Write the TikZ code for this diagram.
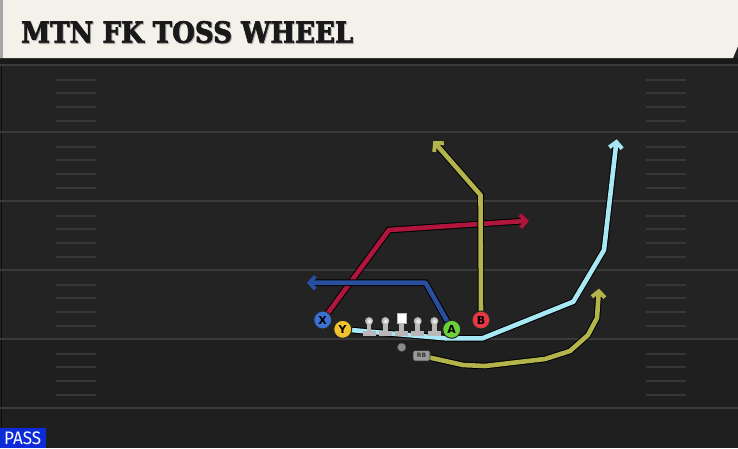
\documentclass[tikz,border=0pt]{standalone}
\usepackage{fontspec}
\usepackage{graphicx}
\usetikzlibrary{arrows.meta}
\newfontfamily\titlefont[FakeBold=2.5]{DejaVu Serif}
\newfontfamily\passfont{Fira Sans}
\newfontfamily\lblfont{DejaVu Sans}
\definecolor{fieldbg}{HTML}{232323}
\definecolor{fielddark}{HTML}{1F1F1F}
\definecolor{yardline}{HTML}{3A3A3A}
\definecolor{hashcol}{HTML}{363636}
\definecolor{bannerbg}{HTML}{F4F1EA}
\definecolor{routered}{HTML}{B0163C}
\definecolor{routeblue}{HTML}{2A4E9E}
\definecolor{routeolive}{HTML}{B4B44C}
\definecolor{routecyan}{HTML}{A8E8F4}
\definecolor{xblue}{HTML}{3B6FD0}
\definecolor{yyellow}{HTML}{F2C12E}
\definecolor{agreen}{HTML}{6BD13A}
\definecolor{bred}{HTML}{E23A44}
\definecolor{linegray}{HTML}{B8B8B8}
\definecolor{passblue}{HTML}{0D2BD9}
\tikzset{
  route/.style={line width=4.6pt, line join=round, line cap=butt,
    preaction={draw=black, line width=6.6pt}},
  routetip/.style={-{Straight Barb[length=6pt,width=13pt,line width=4pt]}},
  player/.style={circle, draw=black!85, line width=1pt, minimum size=18pt,
    inner sep=0pt, font=\lblfont\bfseries\fontsize{11}{11}\selectfont, text=black},
  hashmark/.style={draw=hashcol, line width=2pt},
  ydline/.style={draw=yardline, line width=2pt},
  lman/.style={fill=linegray}
}
\begin{document}
\begin{tikzpicture}[x=1pt,y=-1pt]
\useasboundingbox (0,0) rectangle (738,448);
% field
\fill[fieldbg] (0,0) rectangle (738,448);
\fill[fielddark] (0,339) rectangle (738,448);
\draw[draw=black!70!fieldbg, line width=1pt] (1.5,58) -- (1.5,448);
% yard lines
\foreach \yy in {65,132,201,270,339,408} {
  \draw[ydline] (0,\yy) -- (738,\yy);
}
% hash marks
\foreach \yy in {65,132,201,270,339} {
  \foreach \dd in {14.5,28,41.5,55.5} {
    \draw[hashmark] (56,\yy+\dd) -- (96,\yy+\dd);
    \draw[hashmark] (646,\yy+\dd) -- (686,\yy+\dd);
  }
}
% banner
\fill[black!90] (0,58) rectangle (738,64);
\fill[bannerbg] (0,0) -- (738,0) -- (738,46) -- (733,58) -- (0,58) -- cycle;
\fill[black!35] (0,0) rectangle (3,58);
\node[anchor=south west, inner sep=0pt, text=black!30] (titleshadow) at (22,44.3)
  {\resizebox{332pt}{21.6pt}{\titlefont\bfseries MTN FK TOSS WHEEL}};
\node[anchor=south west, inner sep=0pt, text=black!90] (title) at (21,43.3)
  {\resizebox{332pt}{21.6pt}{\titlefont\bfseries MTN FK TOSS WHEEL}};
% PASS label
\fill[passblue] (0,428) rectangle (46,448);
\node[anchor=south west, inner sep=0pt, text=white] (pass) at (4,445)
  {\resizebox{37pt}{12.7pt}{\passfont PASS}};

% coordinates of players
\coordinate (Xc) at (322.7,320);
\coordinate (Yc) at (342.7,329.3);
\coordinate (Ac) at (451.7,329.3);
\coordinate (Bc) at (481,320);
\coordinate (RBc) at (421.5,355.7);

% routes
% X red
\coordinate (xr1) at (389,230);
\coordinate (xr2) at (529,220.7);
\draw[route, routered, routetip] (Xc) -- (xr1) -- (xr2);
% A blue
\coordinate (ab1) at (425.5,282.7);
\coordinate (ab2) at (306.7,282.7);
\draw[route, routeblue, routetip] (Ac) -- (ab1) -- (ab2);
% B olive
\coordinate (bo1) at (480.5,195);
\coordinate (bo2) at (433.3,141);
\draw[route, routeolive, routetip] (Bc) -- (bo1) -- (bo2);
% Y cyan
\coordinate (yc1) at (446,338.3);
\coordinate (yc2) at (482.5,338.3);
\coordinate (yc3) at (573.3,301.7);
\coordinate (yc4) at (604,250);
\coordinate (yc5) at (616.7,139.3);
\draw[route, routecyan, routetip] (Yc) -- (yc1) -- (yc2) -- (yc3) -- (yc4) -- (yc5);
% RB olive
\coordinate (rb1) at (463,365);
\coordinate (rb2) at (485,366);
\coordinate (rb3) at (545,359);
\coordinate (rb4) at (570,351);
\coordinate (rb5) at (588,335);
\coordinate (rb6) at (597,318);
\coordinate (rb7) at (599,288.5);
\draw[route, routeolive, routetip] (RBc) -- (rb1) -- (rb2) -- (rb3) -- (rb4) -- (rb5) -- (rb6) -- (rb7);

% linemen
\foreach \lx/\nm in {369/l1,385.3/l2,417.7/l4,434.3/l5} {
  \fill[lman] (\lx-6.5,331) rectangle (\lx+6.5,335.5);
  \fill[lman] (\lx-2.3,323) rectangle (\lx+2.3,332);
  \shade[inner color=white, outer color=linegray!90!black] (\lx,321) circle (4);
  \coordinate (\nm) at (\lx,321);
}
% center
\fill[lman] (395.2,331) rectangle (408.2,335.5);
\fill[lman] (399.4,322) rectangle (404,332);
\node[draw=linegray, fill=white, line width=0.9pt, minimum size=9.5pt, inner sep=0pt] (ctr) at (401.7,318.3) {};

% ball / QB dot
\node[circle, fill=black!45, draw=black!70, line width=0.5pt, minimum size=8.5pt, inner sep=0pt] (qb) at (401.7,347.3) {};

% players
\node[player, fill=xblue] (X) at (Xc) {X};
\node[player, fill=yyellow] (Y) at (Yc) {Y};
\node[player, fill=agreen] (A) at (Ac) {A};
\node[player, fill=bred] (B) at (Bc) {B};
\node[rounded corners=2pt, draw=black!80, fill=black!40, line width=0.7pt,
  minimum width=17pt, minimum height=10.5pt, inner sep=0pt,
  font=\lblfont\bfseries\fontsize{6}{6}\selectfont, text=black!80] (RB) at (RBc) {RB};
\end{tikzpicture}
\end{document}
